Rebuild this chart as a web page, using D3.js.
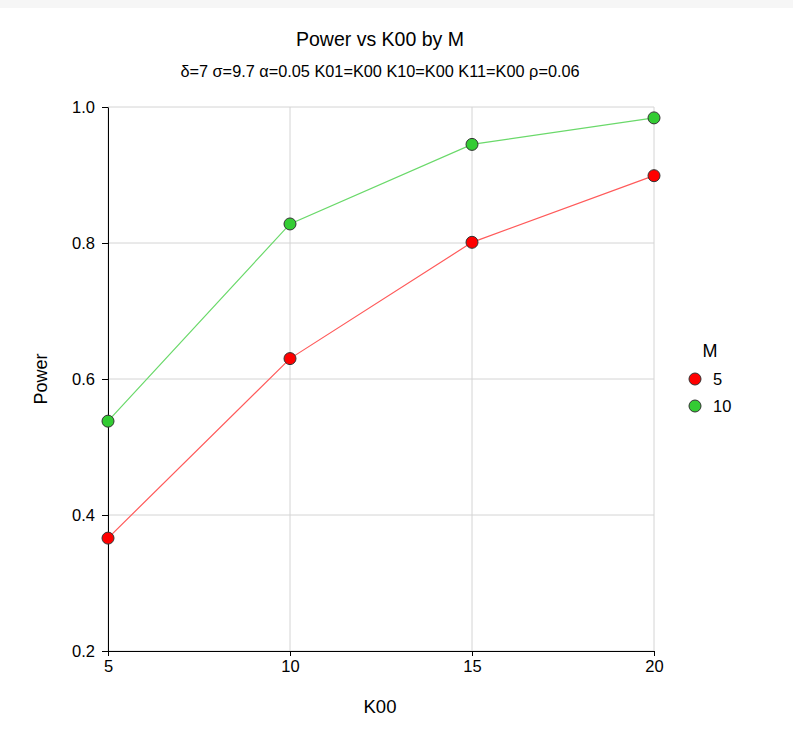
<!DOCTYPE html>
<html>
<head>
<meta charset="utf-8">
<script src="https://cdn.jsdelivr.net/npm/d3@7"></script>
<style>
  body { margin: 0; background: #fff; }
  text { font-family: Arial, "Liberation Sans", sans-serif; fill: #000; }
</style>
</head>
<body>
<div id="chart"></div>
<script>
// data
var k00 = [5, 10, 15, 20];
var mLevels = ["5", "10"];
var power5 = [0.366, 0.630, 0.801, 0.899];
var power10 = [0.538, 0.828, 0.945, 0.984];
var xTicks = [5, 10, 15, 20];
var yTicks = [0.2, 0.4, 0.6, 0.8, 1.0];

var svgWidth = 793, svgHeight = 738;
var margin = { top: 107, right: 139, bottom: 87, left: 108 };
var width = svgWidth - margin.left - margin.right;
var height = svgHeight - margin.top - margin.bottom;

var svg = d3.select("#chart").append("svg")
  .attr("width", svgWidth)
  .attr("height", svgHeight);

// faint strip along the top edge
svg.append("rect")
  .attr("width", svgWidth).attr("height", 8)
  .attr("fill", "#f6f6f6");

svg.append("text")
  .attr("x", 380).attr("y", 46)
  .attr("text-anchor", "middle")
  .style("font-size", "19.5px")
  .text("Power vs K00 by M");

svg.append("text")
  .attr("x", 380).attr("y", 77)
  .attr("text-anchor", "middle")
  .style("font-size", "16.3px")
  .text("δ=7 σ=9.7 α=0.05 K01=K00 K10=K00 K11=K00 ρ=0.06");

var g = svg.append("g")
  .attr("transform", `translate(${margin.left}, ${margin.top})`);

var x = d3.scaleLinear().domain([5, 20]).range([0, width]);
var y = d3.scaleLinear().domain([0.2, 1.0]).range([height, 0]);

// gridlines
g.selectAll(".hgrid").data(yTicks).enter().append("line")
  .attr("x1", 0).attr("x2", width)
  .attr("y1", d => y(d)).attr("y2", d => y(d))
  .attr("stroke", "#d4d4d4");
g.selectAll(".vgrid").data(xTicks).enter().append("line")
  .attr("y1", 0).attr("y2", height)
  .attr("x1", d => x(d)).attr("x2", d => x(d))
  .attr("stroke", "#d4d4d4");

// axes
var bottomAxis = d3.axisBottom(x).tickValues(xTicks).tickSize(5).tickSizeOuter(0).tickPadding(4);
var leftAxis = d3.axisLeft(y).tickValues(yTicks).tickFormat(d3.format(".1f")).tickSize(6).tickSizeOuter(0).tickPadding(7);

var xa = g.append("g").attr("transform", `translate(0, ${height})`).call(bottomAxis);
var ya = g.append("g").call(leftAxis);
[xa, ya].forEach(function(a) {
  a.select(".domain").attr("stroke", "#000");
  a.selectAll(".tick line").attr("stroke", "#000");
  a.selectAll("text").style("font-size", "16.5px").style("font-family", "Arial, 'Liberation Sans', sans-serif").attr("fill", "#000");
});

g.append("text")
  .attr("transform", "rotate(-90)")
  .attr("x", -height / 2).attr("y", -61)
  .attr("text-anchor", "middle")
  .style("font-size", "18px")
  .text("Power");

g.append("text")
  .attr("x", width / 2 - 1).attr("y", height + 62)
  .attr("text-anchor", "middle")
  .style("font-size", "18.5px")
  .text("K00");

// series
var series = [
  { name: "5", values: power5, line: "#ff5a5a", fill: "#ff0000" },
  { name: "10", values: power10, line: "#6ad96a", fill: "#33cc33" }
];

var line = d3.line().x((d, i) => x(k00[i])).y(d => y(d));

series.forEach(function(s) {
  g.append("path")
    .datum(s.values)
    .attr("fill", "none")
    .attr("stroke", s.line)
    .attr("stroke-width", 1.2)
    .attr("d", line);
  g.selectAll(null).data(s.values).enter().append("circle")
    .attr("cx", (d, i) => x(k00[i]))
    .attr("cy", d => y(d))
    .attr("r", 6)
    .attr("fill", s.fill)
    .attr("stroke", "#333")
    .attr("stroke-width", 1);
});

// legend
var legend = svg.append("g").attr("transform", "translate(695, 357)");
legend.append("text").attr("x", 15).attr("y", 0).attr("text-anchor", "middle")
  .style("font-size", "18px").text("M");
series.forEach(function(s, i) {
  var row = legend.append("g").attr("transform", `translate(0, ${22 + i * 27})`);
  row.append("circle").attr("r", 6).attr("fill", s.fill).attr("stroke", "#333");
  row.append("text").attr("x", 18).attr("y", 6).style("font-size", "16.5px").text(mLevels[i]);
});
</script>
</body>
</html>
